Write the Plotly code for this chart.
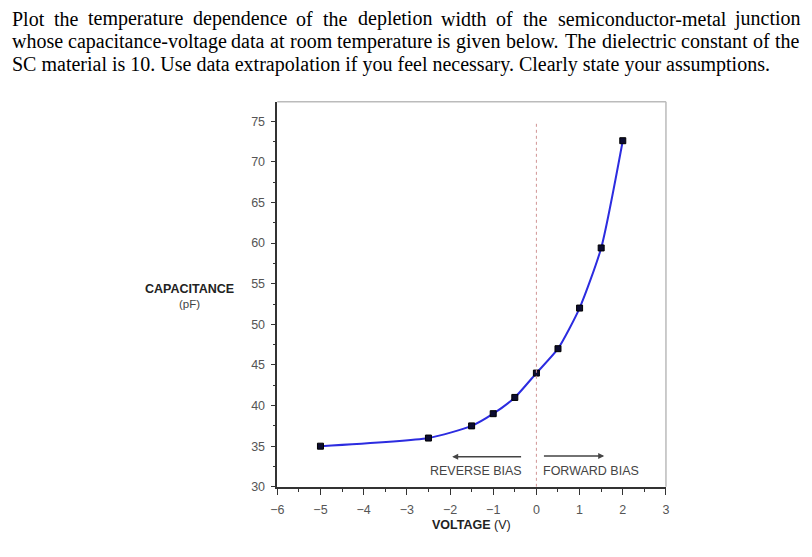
import plotly.graph_objects as go

W, H = 812, 557

# capacitance-voltage data
voltage = [-5, -2.5, -1.5, -1, -0.5, 0, 0.5, 1, 1.5, 2]
capacitance = [35.0, 36.0, 37.5, 39.0, 41.0, 44.0, 47.0, 52.0, 59.4, 72.6]

x_ticks = [-6, -5, -4, -3, -2, -1, 0, 1, 2, 3]
y_ticks = [30, 35, 40, 45, 50, 55, 60, 65, 70, 75]

title_lines = [
    "Plot the temperature dependence of the depletion width of the semiconductor-metal junction",
    "whose capacitance-voltage data at room temperature is given below. The dielectric constant of the",
    "SC material is 10. Use data extrapolation if you feel necessary. Clearly state your assumptions.",
]

# Times (Liberation Serif) advance widths, 1/1000 em
TIMES = {
    " ": 250, ".": 250, "-": 333, ",": 250, "0": 500, "1": 500,
    "C": 667, "P": 556, "S": 556, "T": 611, "U": 722,
    "a": 444, "b": 500, "c": 444, "d": 500, "e": 444, "f": 333, "g": 500,
    "h": 500, "i": 278, "j": 278, "k": 500, "l": 278, "m": 778, "n": 500,
    "o": 500, "p": 500, "q": 500, "r": 333, "s": 389, "t": 278, "u": 500,
    "v": 500, "w": 722, "x": 500, "y": 500, "z": 444,
}


def text_w(s, size):
    return sum(TIMES.get(ch, 500) for ch in s) * size / 1000.0


def px(x):
    return x / W


def py(y):
    return 1 - y / H


fig = go.Figure()

fig.add_trace(go.Scatter(
    x=voltage, y=capacitance,
    mode="lines+markers",
    line=dict(color="#2c2ce0", width=2, shape="spline", smoothing=0.6),
    marker=dict(symbol="square", size=6, color="#0c0c30",
                line=dict(color="#000000", width=1)),
    hoverinfo="skip",
    showlegend=False,
))

annotations = []

# justified question text above the chart
title_size = 20
left, right = 4, 802
for i, line in enumerate(title_lines):
    words = line.split(" ")
    yc = 19 + 23 * i
    if i < len(title_lines) - 1:
        total = sum(text_w(w, title_size) for w in words)
        gap = (right - left - total) / (len(words) - 1)
        xpos = left
        for w in words:
            annotations.append(dict(
                x=px(xpos), y=py(yc), xref="paper", yref="paper",
                xanchor="left", yanchor="middle", text=w, showarrow=False,
                borderpad=0,
                font=dict(family="Liberation Serif", size=title_size, color="#000000"),
            ))
            xpos += text_w(w, title_size) + gap
    else:
        annotations.append(dict(
            x=px(left), y=py(yc), xref="paper", yref="paper",
            xanchor="left", yanchor="middle", text=line, showarrow=False,
            borderpad=0,
            font=dict(family="Liberation Serif", size=title_size, color="#000000"),
        ))

label_font = dict(family="Liberation Sans", size=12.5, color="#222222")
annotations += [
    dict(x=px(185), y=py(293), xref="paper", yref="paper", text="<b>CAPACITANCE</b>",
         xanchor="center", yanchor="middle", showarrow=False, font=label_font),
    dict(x=px(185), y=py(308), xref="paper", yref="paper", text="(pF)",
         xanchor="center", yanchor="middle", showarrow=False,
         font=dict(family="Liberation Sans", size=11.5, color="#444444")),
    dict(x=px(471), y=py(532), xref="paper", yref="paper", text="<b>VOLTAGE</b> (V)",
         xanchor="center", yanchor="middle", showarrow=False, font=label_font),
    # bias arrows
    dict(x=-1.95, y=33.7, ax=-0.32, ay=33.7, xref="x", yref="y", axref="x", ayref="y",
         text="", showarrow=True, arrowhead=2, arrowsize=0.8, arrowwidth=1.5,
         arrowcolor="#444444"),
    dict(x=1.57, y=33.8, ax=0.14, ay=33.8, xref="x", yref="y", axref="x", ayref="y",
         text="", showarrow=True, arrowhead=2, arrowsize=0.8, arrowwidth=1.5,
         arrowcolor="#444444"),
    dict(x=-0.28, y=32.0, xref="x", yref="y", xanchor="right", text="REVERSE BIAS",
         showarrow=False, font=dict(family="Liberation Sans", size=12.5, color="#444444")),
    dict(x=0.1, y=32.0, xref="x", yref="y", xanchor="left", text="FORWARD BIAS",
         showarrow=False, font=dict(family="Liberation Sans", size=12.5, color="#444444")),
]

shapes = [
    # zero-voltage divider
    dict(type="line", xref="x", yref="y", x0=0, x1=0, y0=30, y1=75,
         line=dict(color="#d09494", width=1, dash="3px,3px")),
    # light frame on top and right
    dict(type="line", xref="paper", yref="paper", x0=px(274), x1=px(668),
         y0=py(103), y1=py(103), line=dict(color="#bbbbbb", width=1.5)),
    dict(type="line", xref="paper", yref="paper", x0=px(668), x1=px(668),
         y0=py(103), y1=py(493), line=dict(color="#bbbbbb", width=1.5)),
]

tick_font = dict(family="Liberation Sans", size=12.5, color="#555555")
fig.update_layout(
    width=W, height=H,
    margin=dict(l=0, r=0, t=0, b=0),
    paper_bgcolor="white", plot_bgcolor="white",
    annotations=annotations,
    shapes=shapes,
    xaxis=dict(
        domain=[px(274), px(668)], range=[-6, 3],
        tickvals=x_ticks, ticks="outside", ticklen=6, tickwidth=1.2, tickcolor="#333333",
        minor=dict(dtick=0.5, tick0=0, ticks="outside", ticklen=3, tickcolor="#333333"),
        showline=True, linecolor="#333333", linewidth=1.5, ticklabelstandoff=4,
        showgrid=False, zeroline=False, tickfont=tick_font,
    ),
    yaxis=dict(
        domain=[py(493), py(103)], range=[30, 77.4],
        tickvals=y_ticks, ticks="outside", ticklen=5, tickwidth=1.2, tickcolor="#333333",
        minor=dict(dtick=2.5, tick0=0, ticks="outside", ticklen=3, tickcolor="#333333"),
        showline=True, linecolor="#333333", linewidth=1.5, ticklabelstandoff=3,
        showgrid=False, zeroline=False, tickfont=tick_font,
    ),
)

fig.write_html("out.html", config={"displayModeBar": False},
               post_script="document.body.style.margin='0';")
